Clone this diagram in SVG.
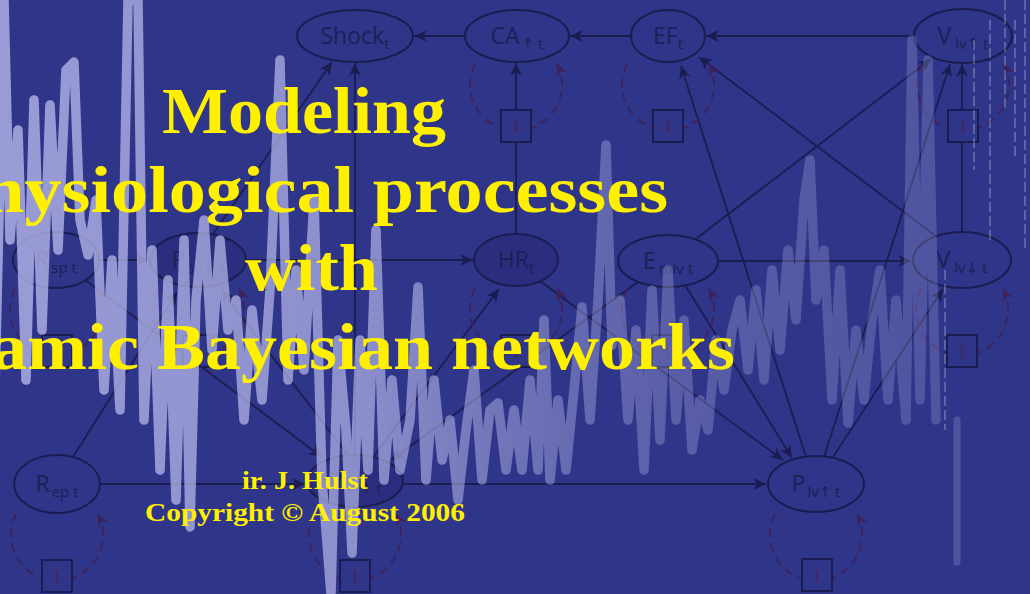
<svg xmlns="http://www.w3.org/2000/svg" width="1030" height="594" viewBox="0 0 1030 594">
<style>
.bg{fill:#2f3589}
.node ellipse{fill:#2f3589;stroke:#1b1d52;stroke-width:2}
.node.obs ellipse{fill:#2b2e7e}
.lbl{font-family:"Open Sans","DejaVu Sans",sans-serif;font-size:23px;fill:#1d2056;text-anchor:middle}
.sub{font-size:15px}
.box{fill:#2f3589;stroke:#1b1d52;stroke-width:2}
.one{font-family:"Liberation Serif",serif;font-size:17px;fill:#4a2352;text-anchor:middle}
.loop{fill:none;stroke:#3f2258;stroke-width:1.8;stroke-dasharray:9 6;marker-end:url(#ahl)}
.edge{fill:none;stroke:#1b1d52;stroke-width:1.8;marker-end:url(#ah)}
.title{font-family:"Liberation Serif",serif;font-weight:bold;fill:#fff000;font-size:66px}
.auth{font-family:"Liberation Serif",serif;font-weight:bold;fill:#fff000;font-size:26px}
.thin{fill:none;stroke:#ffffff;stroke-opacity:.25;stroke-width:1.8;stroke-dasharray:10 4}
</style>
<defs>
<marker id="ah" viewBox="-14 -7 15 14" refX="0" refY="0" markerWidth="15" markerHeight="14" markerUnits="userSpaceOnUse" orient="auto">
<path d="M0,0 L-13,-6 L-9,0 L-13,6 Z" fill="#1b1d52"/>
</marker>
<marker id="ahl" viewBox="-14 -7 15 14" refX="0" refY="0" markerWidth="15" markerHeight="14" markerUnits="userSpaceOnUse" orient="auto">
<path d="M0,0 L-12,-5.5 L-8,0 L-12,5.5 Z" fill="#3f2258"/>
</marker>
<linearGradient id="sig" gradientUnits="userSpaceOnUse" x1="0" y1="0" x2="1030" y2="0">
<stop offset="0" stop-color="#bcbeee" stop-opacity=".75"/>
<stop offset=".35" stop-color="#bcbeee" stop-opacity=".66"/>
<stop offset=".5" stop-color="#bcbeee" stop-opacity=".45"/>
<stop offset=".65" stop-color="#bcbeee" stop-opacity=".3"/>
<stop offset=".88" stop-color="#bcbeee" stop-opacity=".24"/>
<stop offset="1" stop-color="#bcbeee" stop-opacity=".2"/>
</linearGradient>
</defs>
<rect class="bg" x="0" y="0" width="1030" height="594"/>

<g id="connectors">
<path class="edge" d="M465,36 L414,36"/>
<path class="edge" d="M631,36 L570,36"/>
<path class="edge" d="M914,36 L706,36"/>
<path class="edge" d="M516,234 L516,142 M516,110 L516,63"/>
<path class="edge" d="M962,232 L962,142 M962,110 L962,64"/>
<path class="edge" d="M213,234 L332,62"/>
<path class="edge" d="M355,455 L355,63"/>
<path class="edge" d="M99,260 L149,260"/>
<path class="edge" d="M246,260 L473,260"/>
<path class="edge" d="M73,457 L177,292"/>
<path class="edge" d="M85,280 L322,457"/>
<path class="edge" d="M348,455 L221,290"/>
<path class="edge" d="M373,457 L499,289"/>
<path class="edge" d="M540,281 L783,460"/>
<path class="edge" d="M685,285 L792,458"/>
<path class="edge" d="M806,457 L681,66"/>
<path class="edge" d="M937,237 L699,57"/>
<path class="edge" d="M697,238 L931,59"/>
<path class="edge" d="M824,457 L950,64"/>
<path class="edge" d="M833,457 L943,289"/>
<path class="edge" d="M718,261 L911,261"/>
<path class="edge" d="M100,484 L305,484"/>
<path class="edge" d="M403,484 L766,484"/>
<path class="edge" d="M638,282 L391,460"/>
</g>

<g id="node-shock" class="node">
<ellipse cx="355" cy="36" rx="58" ry="26"/>
<text class="lbl" x="355" y="44">Shock<tspan class="sub" dy="5">t</tspan></text>
</g>
<g id="node-ca" class="node">
<ellipse cx="517" cy="36" rx="52" ry="26"/>
<text class="lbl" x="517" y="44">CA<tspan class="sub" dx="2" dy="5">↑ t</tspan></text>
<path class="loop" d="M475,64 A46,46 0 1 0 557,64"/>
<rect class="box" x="501" y="110" width="30" height="32"/>
<text class="one" x="516" y="132">1</text>
</g>
<g id="node-ef" class="node">
<ellipse cx="668" cy="36" rx="37" ry="26"/>
<text class="lbl" x="668" y="44">EF<tspan class="sub" dy="5">t</tspan></text>
<path class="loop" d="M627,64 A46,46 0 1 0 709,64"/>
<rect class="box" x="653" y="110" width="30" height="32"/>
<text class="one" x="668" y="132">1</text>
</g>
<g id="node-vlvup" class="node">
<ellipse cx="963" cy="36" rx="49" ry="27"/>
<text class="lbl" x="963" y="44">V<tspan class="sub" dx="4" dy="5">lv↑ t</tspan></text>
<path class="loop" d="M922,64 A46,46 0 1 0 1004,64"/>
<rect class="box" x="948" y="110" width="30" height="32"/>
<text class="one" x="963" y="132">1</text>
</g>
<g id="node-rsp" class="node">
<ellipse cx="56" cy="260" rx="43" ry="28"/>
<text class="lbl" x="56" y="268">R<tspan class="sub" dx="2" dy="5">sp t</tspan></text>
<path class="loop" d="M15,289 A46,46 0 1 0 97,289"/>
<rect class="box" x="42" y="335" width="30" height="32"/>
<text class="one" x="57" y="357">1</text>
</g>
<g id="node-psa-low" class="node obs">
<ellipse cx="198" cy="260" rx="48" ry="27"/>
<text class="lbl" x="198" y="268">P<tspan class="sub" dx="2" dy="5">sa↓ t</tspan></text>
<path class="loop" d="M157,289 A46,46 0 1 0 239,289"/>
<rect class="box" x="183" y="335" width="30" height="32"/>
<text class="one" x="198" y="357">1</text>
</g>
<g id="node-hr" class="node obs">
<ellipse cx="516" cy="260" rx="42" ry="26"/>
<text class="lbl" x="516" y="268">HR<tspan class="sub" dy="5">t</tspan></text>
<path class="loop" d="M475,289 A46,46 0 1 0 557,289"/>
<rect class="box" x="501" y="335" width="30" height="32"/>
<text class="one" x="516" y="357">1</text>
</g>
<g id="node-emlv" class="node">
<ellipse cx="668" cy="261" rx="50" ry="26"/>
<text class="lbl" x="668" y="269">E<tspan class="sub" dx="3" dy="5">mlv t</tspan></text>
<path class="loop" d="M627,289 A46,46 0 1 0 709,289"/>
<rect class="box" x="652" y="335" width="30" height="32"/>
<text class="one" x="667" y="357">1</text>
</g>
<g id="node-vlvdown" class="node">
<ellipse cx="962" cy="260" rx="49" ry="28"/>
<text class="lbl" x="962" y="268">V<tspan class="sub" dx="4" dy="5">lv↓ t</tspan></text>
<path class="loop" d="M921,289 A46,46 0 1 0 1003,289"/>
<rect class="box" x="947" y="335" width="30" height="32"/>
<text class="one" x="962" y="357">1</text>
</g>
<g id="node-rep" class="node">
<ellipse cx="57" cy="484" rx="43" ry="29"/>
<text class="lbl" x="57" y="492">R<tspan class="sub" dx="2" dy="5">ep t</tspan></text>
<path class="loop" d="M16,514 A46,46 0 1 0 98,514"/>
<rect class="box" x="42" y="560" width="30" height="32"/>
<text class="one" x="57" y="582">1</text>
</g>
<g id="node-psa-up" class="node obs">
<ellipse cx="355" cy="481" rx="48" ry="26"/>
<text class="lbl" x="355" y="489">P<tspan class="sub" dx="2" dy="5">sa↑ t</tspan></text>
<path class="loop" d="M314,514 A46,46 0 1 0 396,514"/>
<rect class="box" x="340" y="560" width="30" height="32"/>
<text class="one" x="355" y="582">1</text>
</g>
<g id="node-plvup" class="node">
<ellipse cx="816" cy="484" rx="48" ry="28"/>
<text class="lbl" x="816" y="492">P<tspan class="sub" dx="2" dy="5">lv↑ t</tspan></text>
<path class="loop" d="M775,514 A46,46 0 1 0 857,514"/>
<rect class="box" x="802" y="559" width="30" height="32"/>
<text class="one" x="817" y="581">1</text>
</g>

<g id="signal">
<path fill="none" stroke="url(#sig)" stroke-width="9.5" stroke-linejoin="round" stroke-linecap="round" d="M-5,390 L4,0 L10,240 L18,130 L26,380 L34,100 L42,330 L50,105 L58,250 L66,70 L74,62 L80,220 L88,255 L96,200 L104,390 L112,260 L120,410 L128,0 L138,0 L144,420 L152,250 L160,470 L168,280 L176,500 L184,240 L190,527 L196,300 L204,220 L212,350 L220,240 L228,330 L236,300 L244,420 L252,310 L262,400 L270,290 L280,60 L288,380 L296,270 L304,370 L314,200 L322,480 L331,594 L338,340 L346,430 L352,553 L360,340 L368,470 L376,230 L384,480 L392,380 L400,470 L410,420 L418,287 L426,480 L434,380 L442,460 L450,420 L458,500 L466,430 L474,370 L482,480 L490,410 L498,403 L506,470 L514,410 L522,470 L530,380 L538,470 L544,320 L550,480 L558,400 L566,470 L574,390 L582,307 L590,420 L598,300 L606,145 L612,345 L620,300 L628,420 L636,330 L644,470 L652,290 L660,440 L668,270 L676,420 L684,320 L692,450 L700,400 L708,430 L716,340 L724,390 L732,330 L740,300 L748,370 L756,290 L764,380 L772,270 L780,350 L788,250 L796,320 L804,200 L810,160 L816,300 L824,250 L832,400 L840,270 L848,423 L856,330 L864,400 L872,320 L880,270 L888,400 L896,300 L906,420 L912,40 L920,400 L928,60 L936,420"/>
<path class="thin" d="M945,270 V430"/>
<path d="M957,420 V562" fill="none" stroke="#bcbeee" stroke-opacity=".22" stroke-width="7" stroke-linecap="round"/>
<path class="thin" d="M974,40 V170"/>
<path class="thin" d="M990,20 V240"/>
<path class="thin" d="M1005,0 V110"/>
<path class="thin" d="M1015,20 V160"/>
<path class="thin" d="M1025,0 V250"/>
</g>

<g id="title">
<text class="title" x="162" y="133" textLength="284" lengthAdjust="spacingAndGlyphs">Modeling</text>
<text class="title" x="-58" y="212" textLength="726" lengthAdjust="spacingAndGlyphs">physiological processes</text>
<text class="title" x="245" y="290" textLength="133" lengthAdjust="spacingAndGlyphs">with</text>
<text class="title" x="-125" y="369" textLength="860" lengthAdjust="spacingAndGlyphs">dynamic Bayesian networks</text>
<text class="auth" x="242" y="489" textLength="126" lengthAdjust="spacingAndGlyphs">ir. J. Hulst</text>
<text class="auth" x="145" y="521" textLength="320" lengthAdjust="spacingAndGlyphs">Copyright © August 2006</text>
</g>
</svg>
